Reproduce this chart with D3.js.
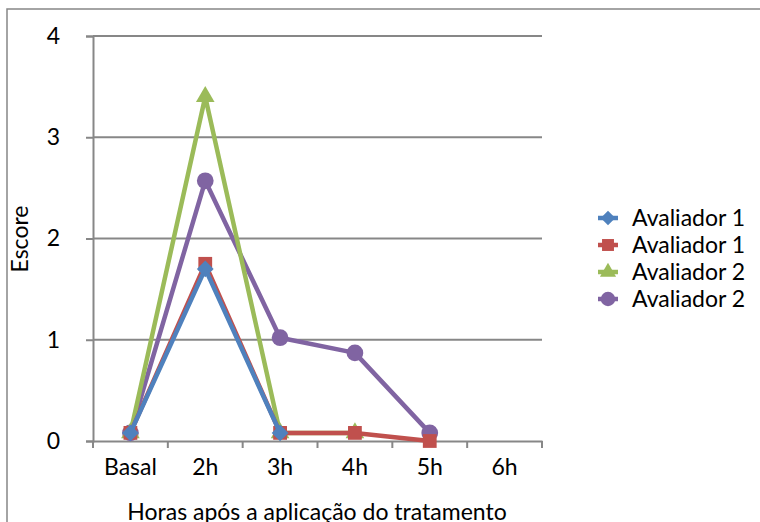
<!DOCTYPE html>
<html><head><meta charset="utf-8">
<script src="https://cdn.jsdelivr.net/npm/d3@7/dist/d3.min.js"></script>
<style>body{margin:0;background:#fff;}svg{display:block;font-family:Lato,"Open Sans",sans-serif;}</style>
</head><body>
<svg id="c" width="760" height="522"></svg>
<script>
const categories = ["Basal","2h","3h","4h","5h","6h"];
const yTicks = [0,1,2,3,4];
const seriesNames = ["Avaliador 1","Avaliador 1","Avaliador 2","Avaliador 2"];
const aval1a = [0.08, 1.70, 0.08];              // blue diamonds
const aval1b = [0.08, 1.75, 0.08, 0.08, 0.00];  // red squares
const aval2a = [0.08, 3.40, 0.08, 0.08];        // green triangles
const aval2b = [0.08, 2.57, 1.02, 0.87, 0.08];  // purple circles
const colors = ["#4F81BD","#C0504D","#9BBB59","#8064A2"];
const symbols = [d3.symbolSquare, d3.symbolSquare, d3.symbolTriangle, d3.symbolCircle];
const symRot = [45, 0, 0, 0];
const symSizes = [140, 190, 150, 220];
const FS = 23;

const svg = d3.select("#c");
svg.append("rect").attr("x",7).attr("y",9).attr("width",800).attr("height",600)
  .attr("fill","none").attr("stroke","#878787").attr("stroke-width",1.5);

const x = d3.scaleBand().domain(categories).range([93,542]).padding(0);
const y = d3.scaleLinear().domain([0,4]).range([441,36]);

svg.append("g").selectAll("line").data(yTicks.filter(d=>d>0)).join("line")
  .attr("x1",93).attr("x2",542).attr("y1",d=>y(d)).attr("y2",d=>y(d))
  .attr("stroke","#878787").attr("stroke-width",2);

const ya = svg.append("g").attr("transform","translate(93,0)")
  .call(d3.axisLeft(y).tickValues(yTicks).tickSize(7).tickPadding(26).tickFormat(d3.format("d")));
ya.select(".domain").attr("stroke","#878787").attr("stroke-width",2);
ya.selectAll(".tick line").attr("stroke","#878787").attr("stroke-width",2);
ya.selectAll("text").attr("font-size",FS).attr("fill","#000").attr("font-family","Lato,'Open Sans',sans-serif");

const xa = svg.append("g").attr("transform","translate(0,441)")
  .call(d3.axisBottom(x).tickSize(0).tickPadding(18));
xa.select(".domain").attr("stroke","#878787").attr("stroke-width",2);
xa.selectAll("text").attr("font-size",FS).attr("fill","#000").attr("font-family","Lato,'Open Sans',sans-serif");
svg.append("g").selectAll("line").data(d3.range(categories.length+1)).join("line")
  .attr("x1",i=>93+i*x.step()).attr("x2",i=>93+i*x.step())
  .attr("y1",441).attr("y2",448).attr("stroke","#878787").attr("stroke-width",2);

svg.append("text").attr("x",317).attr("y",520).attr("text-anchor","middle")
  .attr("font-size",FS).text("Horas após a aplicação do tratamento");
svg.append("text").attr("transform","translate(28,239) rotate(-90)").attr("text-anchor","middle")
  .attr("font-size",FS).text("Escore");

const allSeries = [aval1a, aval1b, aval2a, aval2b];
const line = d3.line().x((d,i)=>x(categories[i])+x.bandwidth()/2).y(d=>y(d));
[3,2,1,0].forEach(s=>{
  const g = svg.append("g");
  g.append("path").datum(allSeries[s]).attr("d",line).attr("fill","none")
    .attr("stroke",colors[s]).attr("stroke-width",4.5).attr("stroke-linejoin","round");
  g.selectAll("path.m").data(allSeries[s]).join("path").attr("class","m")
    .attr("transform",(d,i)=>`translate(${x(categories[i])+x.bandwidth()/2},${y(d)}) rotate(${symRot[s]})`)
    .attr("d",d3.symbol().type(symbols[s]).size(symSizes[s])).attr("fill",colors[s]);
});

const legY = [218,245,272,299];
const lg = svg.append("g");
seriesNames.forEach((n,i)=>{
  lg.append("line").attr("x1",598).attr("x2",618).attr("y1",legY[i]).attr("y2",legY[i])
    .attr("stroke",colors[i]).attr("stroke-width",4.5);
  lg.append("path").attr("transform",`translate(608,${legY[i]}) rotate(${symRot[i]})`)
    .attr("d",d3.symbol().type(symbols[i]).size(symSizes[i]*0.75)).attr("fill",colors[i]);
  lg.append("text").attr("x",632).attr("y",legY[i]+8).attr("font-size",FS).text(n);
});
</script>
</body></html>
